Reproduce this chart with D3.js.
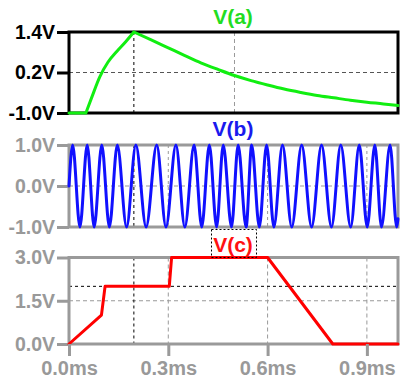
<!DOCTYPE html>
<html>
<head>
<meta charset="utf-8">
<script src="https://cdn.jsdelivr.net/npm/d3@7"></script>
<style>
  html, body { margin: 0; padding: 0; background: #fff; }
  svg { display: block; font-family: "Liberation Sans", Arial, sans-serif; font-weight: bold; }
</style>
</head>
<body>
<svg id="chart" width="400" height="379"></svg>
<script>
// ---- data ----
const timeTicks = [0, 0.3, 0.6, 0.9];
const timeTickLabels = ["0.0ms", "0.3ms", "0.6ms", "0.9ms"];

const aTicks = [-1.0, 0.2, 1.4];
const aTickLabels = ["-1.0V", "0.2V", "1.4V"];
const bTicks = [-1.0, 0.0, 1.0];
const bTickLabels = ["-1.0V", "0.0V", "1.0V"];
const cTicks = [0.0, 1.5, 3.0];
const cTickLabels = ["0.0V", "1.5V", "3.0V"];

const traceNames = ["V(a)", "V(b)", "V(c)"];

// V(a): flat, rise, decay (segments split at the corner points)
const aTime  = [0, 0.051, 0.069, 0.093, 0.118, 0.145, 0.172, 0.196, 0.25, 0.30, 0.35, 0.40, 0.45, 0.50, 0.55, 0.60, 0.65, 0.70, 0.75, 0.80, 0.85, 0.90, 0.95, 0.994];
const aVolts = [-1.0, -1.0, -0.53, 0.07, 0.51, 0.83, 1.12, 1.4, 1.16, 0.93, 0.70, 0.48, 0.29, 0.11, -0.04, -0.17, -0.29, -0.39, -0.48, -0.55, -0.62, -0.68, -0.73, -0.78];
const aBreaks = [0, 1, 7, 23];

const bTime  = [0, 0.011, 0.033, 0.055, 0.076, 0.099, 0.122, 0.146, 0.174, 0.202, 0.233, 0.265, 0.293, 0.323, 0.350, 0.378, 0.401, 0.424, 0.446, 0.466, 0.491, 0.511, 0.535, 0.552, 0.575, 0.597, 0.619, 0.645, 0.673, 0.703, 0.733, 0.763, 0.793, 0.821, 0.851, 0.877, 0.901, 0.924, 0.944, 0.970, 0.990, 0.994];
const bVolts = [0, 1, -1, 1, -1, 1, -1, 1, -1, 1, -1, 1, -1, 1, -1, 1, -1, 1, -1, 1, -1, 1, -1, 1, -1, 1, -1, 1, -1, 1, -1, 1, -1, 1, -1, 1, -1, 1, -1, 1, -1, -0.8];

const cTime  = [0, 0.098, 0.109, 0.303, 0.310, 0.600, 0.797, 0.994];
const cVolts = [0, 1.0, 2.0, 2.0, 3.0, 3.0, 0, 0];

const cursorTime = 0.196;
const cursorLevelC = 2.0;

// ---- chart ----
const svg = d3.select("#chart");
const x = d3.scaleLinear().domain([0, 0.994]).range([69, 398]);

const panes = [
  { y: d3.scaleLinear().domain([-1.0, 1.4]).range([113, 32]), ticks: aTicks, labels: aTickLabels,
    frame: "#000", tickText: "#000", t: aTime, v: aVolts, color: "#11ee11", titleColor: "#22dd22",
    title: traceNames[0], titleY: 24, curve: d3.curveMonotoneX, breaks: aBreaks },
  { y: d3.scaleLinear().domain([-1.0, 1.0]).range([227, 145]), ticks: bTicks, labels: bTickLabels,
    frame: "#9a9a9a", tickText: "#999", t: bTime, v: bVolts, color: "#1010ff", titleColor: "#1a1aee",
    title: traceNames[1], titleY: 136, curve: d3.curveMonotoneX, breaks: [0, bTime.length - 1] },
  { y: d3.scaleLinear().domain([0, 3.0]).range([344, 257.5]), ticks: cTicks, labels: cTickLabels,
    frame: "#9a9a9a", tickText: "#999", t: cTime, v: cVolts, color: "#ff0000", titleColor: "#ff1111",
    title: traceNames[2], titleY: 252, curve: d3.curveLinear, breaks: [0, cTime.length - 1] }
];

panes.forEach((p, i) => {
  const g = svg.append("g");
  const [y0, y1] = p.y.range();
  const x0 = x.range()[0], x1 = x.range()[1];

  // grid lines
  const grid = g.append("g");
  if (i === 0) {
    grid.append("line").attr("x1", x0).attr("x2", x1).attr("y1", p.y(0.2)).attr("y2", p.y(0.2))
      .attr("stroke", "#555").attr("stroke-dasharray", "4,3");
    grid.append("line").attr("x1", x(0.5)).attr("x2", x(0.5)).attr("y1", y1).attr("y2", y0)
      .attr("stroke", "#999").attr("stroke-dasharray", "4,3");
  } else if (i === 1) {
    grid.append("line").attr("x1", x0).attr("x2", x1).attr("y1", p.y(0)).attr("y2", p.y(0))
      .attr("stroke", "#999").attr("stroke-dasharray", "4,3");
    [0.3, 0.6, 0.9].forEach(t => grid.append("line").attr("x1", x(t)).attr("x2", x(t)).attr("y1", y1).attr("y2", y0)
      .attr("stroke", "#999").attr("stroke-dasharray", "3,3"));
  } else {
    grid.append("line").attr("x1", x0).attr("x2", x1).attr("y1", p.y(1.5)).attr("y2", p.y(1.5))
      .attr("stroke", "#999").attr("stroke-dasharray", "4,3");
    [0.3, 0.6, 0.9].forEach(t => grid.append("line").attr("x1", x(t)).attr("x2", x(t)).attr("y1", y1).attr("y2", y0)
      .attr("stroke", "#999").attr("stroke-dasharray", "4,3"));
    grid.append("line").attr("x1", x0).attr("x2", x1).attr("y1", p.y(cursorLevelC)).attr("y2", p.y(cursorLevelC))
      .attr("stroke", "#000").attr("stroke-dasharray", "3,3");
  }
  // cursor vertical
  grid.append("line").attr("x1", x(cursorTime)).attr("x2", x(cursorTime)).attr("y1", y1).attr("y2", y0)
    .attr("stroke", "#000").attr("stroke-dasharray", "3,3");
  if (i === 1) {
    grid.append("line").attr("x1", x(cursorTime)).attr("x2", x(cursorTime)).attr("y1", y1 + 2).attr("y2", y1 + 28)
      .attr("stroke", "#f0e000").attr("stroke-dasharray", "3,3").attr("stroke-dashoffset", 3);
  }

  // frame
  g.append("rect").attr("x", x0).attr("y", y1).attr("width", x1 - x0).attr("height", y0 - y1)
    .attr("fill", "none").attr("stroke", p.frame).attr("stroke-width", 3);

  // y axis
  const ax = g.append("g").attr("transform", `translate(${x0},0)`)
    .call(d3.axisLeft(p.y).tickValues(p.ticks).tickSize(12).tickPadding(2)
      .tickFormat((d, k) => p.labels[k]));
  ax.select(".domain").remove();
  ax.selectAll(".tick line").attr("stroke", p.frame).attr("stroke-width", 3);
  ax.selectAll(".tick text").attr("fill", p.tickText).attr("font-size", 19.5)
    .attr("font-family", "Liberation Sans, Arial, sans-serif").attr("font-weight", "bold");

  // trace (split into segments at sharp corners)
  const line = d3.line().x(d => x(p.t[d])).y(d => p.y(p.v[d])).curve(p.curve);
  const idx = d3.range(p.t.length);
  const segs = [];
  for (let s = 0; s < p.breaks.length - 1; s++) segs.push(idx.slice(p.breaks[s], p.breaks[s + 1] + 1));
  g.append("path").attr("d", segs.map(s => line(s)).join(""))
    .attr("fill", "none").attr("stroke", p.color).attr("stroke-width", 3)
    .attr("stroke-linejoin", "round").attr("stroke-linecap", "round");

  // title
  g.append("text").attr("x", 233).attr("y", p.titleY).attr("text-anchor", "middle")
    .attr("font-size", 21).attr("fill", p.titleColor).text(p.title);
  if (i === 2) {
    g.append("rect").attr("x", 211.5).attr("y", 229.5).attr("width", 45).attr("height", 28)
      .attr("fill", "none").attr("stroke", "#000").attr("stroke-dasharray", "2,2");
  }
});

// x axis
const xa = svg.append("g").attr("transform", "translate(0,344)")
  .call(d3.axisBottom(x).tickValues(timeTicks).tickSize(12).tickPadding(5)
    .tickFormat((d, k) => timeTickLabels[k]));
xa.select(".domain").remove();
xa.selectAll(".tick line").attr("stroke", "#9a9a9a").attr("stroke-width", 3);
xa.selectAll(".tick text").attr("fill", "#999").attr("font-size", 20)
  .attr("font-family", "Liberation Sans, Arial, sans-serif").attr("font-weight", "bold");
</script>
</body>
</html>
